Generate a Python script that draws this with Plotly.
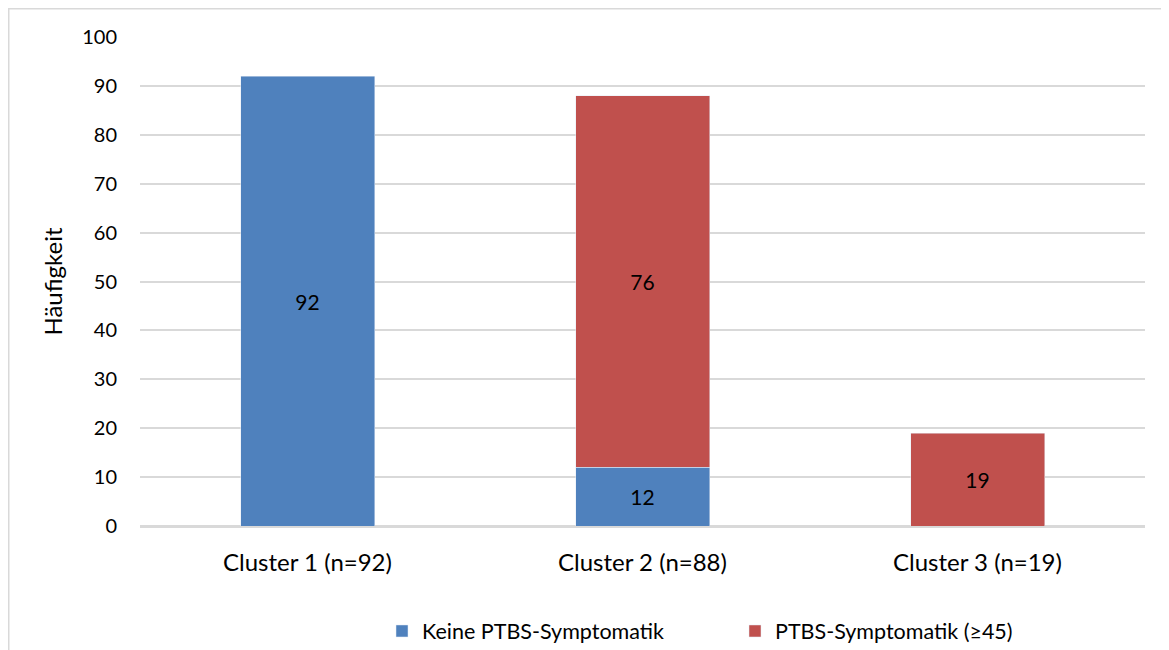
import plotly.graph_objects as go

categories = ["Cluster 1 (n=92)", "Cluster 2 (n=88)", "Cluster 3 (n=19)"]
keine = [92, 12, None]
ptbs = [None, 76, 19]
series_names = ["Keine PTBS-Symptomatik", "PTBS-Symptomatik (≥45)"]
y_ticks = [0, 10, 20, 30, 40, 50, 60, 70, 80, 90, 100]

FONT = "Lato"
W, H = 1161, 642  # page body has an 8px margin
L, R, T, B = 132, 24, 29, 124
PW, PH = W - L - R, H - T - B

fig = go.Figure()
fig.add_trace(go.Bar(x=categories, y=keine, name=series_names[0], marker_color="#4f81bd",
                     text=[str(v) if v else "" for v in keine], textposition="inside",
                     insidetextanchor="middle", textfont=dict(color="black", size=21, family=FONT)))
fig.add_trace(go.Bar(x=categories, y=ptbs, name=series_names[1], marker_color="#c0504d",
                     text=[str(v) if v else "" for v in ptbs], textposition="inside",
                     insidetextanchor="middle", textfont=dict(color="black", size=21, family=FONT)))

fig.update_layout(
    barmode="stack", bargap=0.6,
    width=W, height=H,
    margin=dict(l=L, r=R, t=T, b=B, autoexpand=False),
    paper_bgcolor="white", plot_bgcolor="white",
    font=dict(family=FONT, size=20, color="black"),
    uniformtext=dict(mode="show", minsize=21),
    legend=dict(orientation="h", x=(374 - L) / PW, xanchor="left", y=(PH + T - 623) / PH,
                yanchor="middle", font=dict(size=21.5), traceorder="normal", itemwidth=30,
                entrywidth=308, entrywidthmode="pixels"),
    xaxis=dict(showgrid=False, ticks="outside", ticklen=15, tickcolor="rgba(0,0,0,0)",
               showline=False, tickfont=dict(size=24)),
    yaxis=dict(range=[0, 100], tickvals=y_ticks, showgrid=True, gridcolor="#d9d9d9", gridwidth=1.5,
               zeroline=True, zerolinecolor="#d9d9d9", zerolinewidth=2.5,
               ticks="outside", ticklen=18, tickcolor="rgba(0,0,0,0)",
               title=dict(text="Häufigkeit", font=dict(size=24), standoff=12),
               tickfont=dict(size=20)),
    shapes=[dict(type="rect", xref="paper", yref="paper",
                 x0=(0.75 - L) / PW, x1=1.2, y0=-0.5, y1=(PH + T - 0.75) / PH,
                 line=dict(color="#d9d9d9", width=1.5), layer="below")],
    showlegend=True,
)
fig.write_html("out.html")
